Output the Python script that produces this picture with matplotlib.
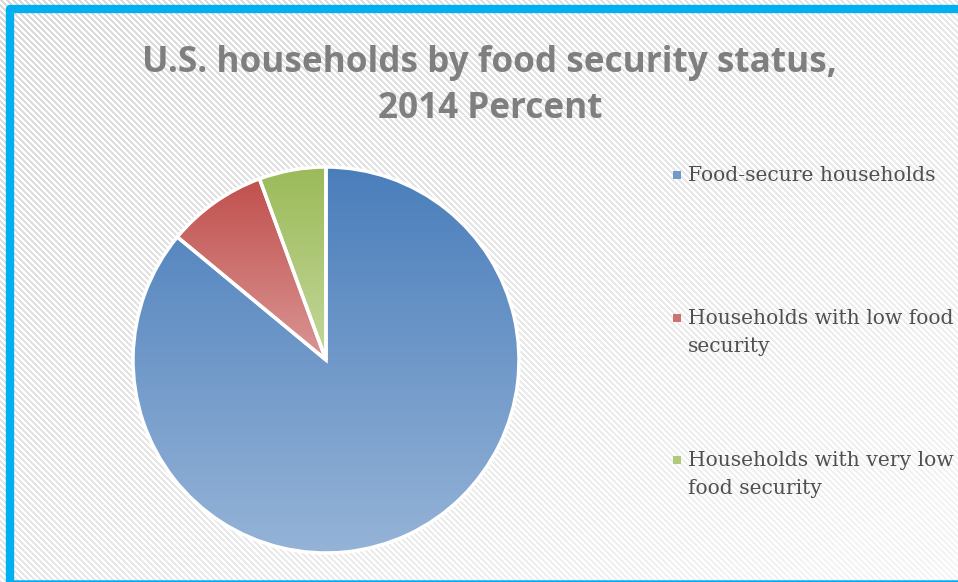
import numpy as np
import matplotlib.pyplot as plt
from matplotlib.patches import Rectangle
from matplotlib.colors import to_rgb

# Household shares, 2014 (percent)
categories = ["Food-secure households",
              "Households with low food\nsecurity",
              "Households with very low\nfood security"]
shares = [86.0, 8.4, 5.6]
top_colors = ["#4A7EBB", "#C0504D", "#9BBB59"]
bottom_colors = ["#95B3D7", "#DA9694", "#C4D79B"]
title = "U.S. households by food security status,\n2014 Percent"

W, H = 958, 582
fig = plt.figure(figsize=(W / 100, H / 100), dpi=100)

# diagonal stripe background, fading toward the lower right
bg = fig.add_axes([0, 0, 1, 1])
yy, xx = np.mgrid[0:H, 0:W]
stripe = ((xx - yy) % 6) < 3
fade = (xx / W + yy / H) / 2
grey = 0.85 + 0.11 * fade
img = np.where(stripe, grey, 1.0)
bg.imshow(img, cmap="gray", vmin=0, vmax=1, extent=[0, W, H, 0],
          interpolation="bilinear", aspect="auto")
bg.set_xlim(0, W)
bg.set_ylim(H, 0)
bg.axis("off")

# cyan frame: thick left and top edges, thin strip along the bottom
bg.plot([10, 10, 1000], [600, 9, 9], color="#00B0F0", linewidth=6,
        solid_joinstyle="round", solid_capstyle="butt", clip_on=False)
bg.plot([10, 1000], [581, 581], color="#00B0F0", linewidth=1.8)

# pie
cx, cy, r = 326, 360, 193
side = 2.2 * r
ax = fig.add_axes([(cx - side / 2) / W, (H - cy - side / 2) / H, side / W, side / H])
wedges, _ = ax.pie(shares, startangle=90, counterclock=False, radius=1,
                   colors=top_colors,
                   wedgeprops=dict(edgecolor="white", linewidth=2.5))
ax.set_xlim(-1.1, 1.1)
ax.set_ylim(-1.1, 1.1)
ax.set_aspect("equal")
ax.axis("off")

# vertical gradient fill clipped to each wedge
for w, c0, c1 in zip(wedges, top_colors, bottom_colors):
    ext = w.get_patch_transform().transform_path(w.get_path()).get_extents()
    t = np.linspace(0, 1, 256)[:, None]
    grad = (1 - t) * np.array(to_rgb(c0)) + t * np.array(to_rgb(c1))
    grad = grad[:, None, :].repeat(2, axis=1)
    im = ax.imshow(grad, extent=[ext.x0, ext.x1, ext.y0, ext.y1], origin="upper",
                   aspect="auto", interpolation="bilinear", zorder=w.get_zorder())
    im.set_clip_path(w)
    w.set_facecolor("none")
    w.set_zorder(w.get_zorder() + 1)

# title
fig.text(490 / W, 1 - 86 / H, title, ha="center", va="center", fontsize=25.3,
         fontweight="bold", family="Open Sans", color="#7F7F7F", linespacing=1.4)

# legend
legend_y = [175, 318, 460]
for label, c0, c1, y in zip(categories, top_colors, bottom_colors, legend_y):
    mid = 0.5 * (np.array(to_rgb(c0)) + np.array(to_rgb(c1)))
    bg.add_patch(Rectangle((673, y - 4), 8, 8, facecolor=mid, edgecolor="none"))
    bg.text(688, y - 9, label, ha="left", va="top", fontsize=14.6,
            family="DejaVu Serif", color="#505050", linespacing=1.6)

fig.savefig("out.png", dpi=100)
